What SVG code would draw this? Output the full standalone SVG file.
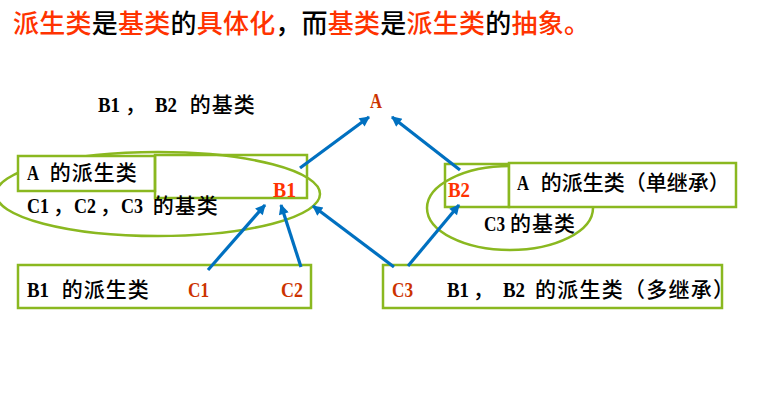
<svg xmlns="http://www.w3.org/2000/svg" width="763" height="405" viewBox="0 0 763 405">
<defs>
<style>
.t{font-family:"Noto Sans CJK SC",sans-serif;font-size:21px;fill:#000;font-weight:500;letter-spacing:1px}
.l{font-family:"Liberation Serif","Noto Sans CJK SC",serif;font-size:22px;font-weight:bold;letter-spacing:0}
.c{letter-spacing:0}
.r{fill:#FF3300}
.d{fill:#CC3300}
.title{font-family:"Noto Sans CJK SC",sans-serif;font-size:26px;font-weight:500}
.box{fill:none;stroke:#8AB820;stroke-width:2.5}
.wbox{fill:#fff;stroke:#8AB820;stroke-width:2.5}
.ell{fill:none;stroke:#8AB820;stroke-width:2.5}
.arr{stroke:#0070C0;stroke-width:3.2;fill:none;marker-end:url(#ah)}
</style>
<marker id="ah" viewBox="0 0 10 10" refX="9" refY="5" markerWidth="3.8" markerHeight="3.2" orient="auto" markerUnits="strokeWidth">
<path d="M0,0 L10,5 L0,10 z" fill="#0070C0"/>
</marker>
</defs>
<rect width="763" height="405" fill="#fff"/>
<text class="title" x="13" y="33" textLength="577" lengthAdjust="spacing"><tspan fill="#FF3300">派生类</tspan><tspan fill="#000">是</tspan><tspan fill="#FF3300">基类</tspan><tspan fill="#000">的</tspan><tspan fill="#FF3300">具体化</tspan><tspan fill="#000">，而</tspan><tspan fill="#FF3300">基类</tspan><tspan fill="#000">是</tspan><tspan fill="#FF3300">派生类</tspan><tspan fill="#000">的</tspan><tspan fill="#FF3300">抽象。</tspan></text>
<g id="node-A">
<text class="l d" x="370" y="108" textLength="12" lengthAdjust="spacingAndGlyphs">A</text>
<text class="t" y="112"><tspan class="l" x="98" textLength="22" lengthAdjust="spacingAndGlyphs">B1</tspan><tspan class="c" x="125">，</tspan><tspan class="l" x="155" textLength="22" lengthAdjust="spacingAndGlyphs">B2</tspan><tspan x="184"> 的基类</tspan></text>
</g>
<g id="node-B1">
<ellipse class="ell" cx="158" cy="194" rx="162" ry="42"/>
<rect class="wbox" x="18" y="156" width="137" height="35"/>
<rect class="box" x="155" y="155" width="152" height="43"/>
<text class="t" y="180"><tspan class="l" x="27" textLength="12" lengthAdjust="spacingAndGlyphs">A</tspan><tspan x="44"> 的派生类</tspan></text>
<text class="l r" x="273" y="197" textLength="23" lengthAdjust="spacingAndGlyphs">B1</text>
<text class="t" y="213"><tspan class="l" x="27" textLength="22" lengthAdjust="spacingAndGlyphs">C1</tspan><tspan class="c" x="53">，</tspan><tspan class="l" x="74" textLength="22" lengthAdjust="spacingAndGlyphs">C2</tspan><tspan class="c" x="100">，</tspan><tspan class="l" x="121" textLength="22" lengthAdjust="spacingAndGlyphs">C3</tspan><tspan x="147"> 的基类</tspan></text>
</g>
<g id="node-B2">
<ellipse class="ell" cx="510" cy="208" rx="83" ry="42"/>
<rect class="box" x="445" y="164" width="64" height="43"/>
<rect class="wbox" x="509" y="163" width="227" height="44"/>
<text class="l r" x="448" y="197" textLength="22" lengthAdjust="spacingAndGlyphs">B2</text>
<text class="t" y="190" style="letter-spacing:0"><tspan class="l" x="517" textLength="12" lengthAdjust="spacingAndGlyphs">A</tspan><tspan x="536"> 的派生类（单继承）</tspan></text>
<text class="t" y="231"><tspan class="l" x="484" textLength="21" lengthAdjust="spacingAndGlyphs">C3</tspan><tspan x="510">的基类</tspan></text>
</g>
<g id="node-C1C2">
<rect class="box" x="18" y="265" width="293" height="43"/>
<text class="t" y="297"><tspan class="l" x="27" textLength="22" lengthAdjust="spacingAndGlyphs">B1</tspan><tspan x="56"> 的派生类</tspan></text>
<text class="l d" x="188" y="297" textLength="21" lengthAdjust="spacingAndGlyphs">C1</text>
<text class="l d" x="281" y="297" textLength="22" lengthAdjust="spacingAndGlyphs">C2</text>
</g>
<g id="node-C3">
<rect class="box" x="383" y="265" width="339" height="43"/>
<text class="l d" x="392" y="297" textLength="21" lengthAdjust="spacingAndGlyphs">C3</text>
<text class="t" y="297" style="letter-spacing:1.25px"><tspan class="l" x="447" textLength="22" lengthAdjust="spacingAndGlyphs">B1</tspan><tspan class="c" x="473">，</tspan><tspan class="l" x="503" textLength="22" lengthAdjust="spacingAndGlyphs">B2</tspan><tspan x="529"> 的派生类（多继承）</tspan></text>
</g>
<g id="connectors">
<line class="arr" x1="300" y1="168" x2="369" y2="117"/>
<line class="arr" x1="460" y1="170" x2="392" y2="117"/>
<line class="arr" x1="208" y1="270" x2="265" y2="205"/>
<line class="arr" x1="301" y1="267" x2="281" y2="205"/>
<line class="arr" x1="394" y1="267" x2="313" y2="206"/>
<line class="arr" x1="408" y1="266" x2="459" y2="205"/>
</g>
</svg>
